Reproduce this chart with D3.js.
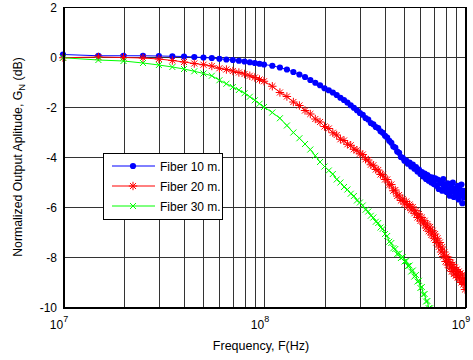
<!DOCTYPE html>
<html>
<head>
<meta charset="utf-8">
<script src="https://cdn.jsdelivr.net/npm/d3@7"></script>
<style>
  body { margin: 0; background: #fff; }
  svg { font-family: "Liberation Sans", Arial, sans-serif; }
</style>
</head>
<body>
<div id="chart"></div>
<script>
// frequencies in MHz
const freqMHz = [
  10, 15, 20, 25, 30, 35, 40, 45, 50, 55, 60, 65, 70, 75, 80, 85, 90, 95, 100,
  110, 120, 130, 140, 150, 160, 170, 180, 190, 200,
  210, 220, 230, 240, 250, 260, 270, 280, 290, 300,
  310, 320, 330, 340, 350, 360, 370, 380, 390, 400,
  410, 420, 430, 440, 450, 460, 470, 480, 490, 500,
  510, 520, 530, 540, 550, 560, 570, 580, 590, 600,
  610, 620, 630, 640, 650, 660, 670, 680, 690, 700,
  710, 720, 730, 740, 750, 760, 770, 780, 790, 800,
  810, 820, 830, 840, 850, 860, 870, 880, 890, 900,
  910, 920, 930, 940, 950, 960, 970, 980, 990, 1000
];

const fiber10 = [
  0.10, 0.05, 0.05, 0.05, 0.04, 0.03, 0.02, 0.00, -0.02, -0.04, -0.07, -0.10, -0.12, -0.15, -0.18, -0.21, -0.24, -0.27, -0.30,
  -0.35, -0.42, -0.50, -0.60, -0.70, -0.80, -0.92, -1.03, -1.13, -1.25,
  -1.33, -1.42, -1.52, -1.63, -1.72, -1.82, -1.93, -2.03, -2.13, -2.24,
  -2.31, -2.44, -2.50, -2.64, -2.69, -2.80, -2.84, -2.97, -3.03, -3.15,
  -3.22, -3.35, -3.43, -3.58, -3.62, -3.78, -3.83, -4.00, -4.03, -4.15,
  -4.14, -4.27, -4.22, -4.38, -4.30, -4.47, -4.40, -4.58, -4.50, -4.68,
  -4.60, -4.78, -4.66, -4.88, -4.72, -4.95, -4.80, -5.02, -4.82, -5.08,
  -4.85, -5.15, -4.90, -5.28, -4.95, -5.05, -5.35, -4.88, -5.22, -5.10,
  -5.40, -5.05, -5.30, -5.55, -5.12, -5.38, -5.02, -5.60, -5.25, -5.45,
  -5.48, -5.15, -5.70, -5.30, -5.52, -5.10, -5.85, -5.35, -5.62, -5.40
];

const fiber20 = [
  -0.03, 0.00, -0.02, -0.04, -0.08, -0.14, -0.20, -0.26, -0.31, -0.36, -0.45, -0.50, -0.56, -0.62, -0.68, -0.75, -0.82, -0.90, -0.97,
  -1.17, -1.42, -1.58, -1.80, -1.94, -2.14, -2.28, -2.48, -2.60, -2.78,
  -2.86, -3.03, -3.12, -3.29, -3.34, -3.49, -3.53, -3.69, -3.73, -3.87,
  -3.90, -4.09, -4.12, -4.31, -4.33, -4.50, -4.52, -4.70, -4.71, -4.90,
  -4.90, -5.12, -5.10, -5.35, -5.32, -5.56, -5.52, -5.74, -5.68, -5.88,
  -5.78, -6.00, -5.90, -6.12, -6.00, -6.25, -6.15, -6.42, -6.28, -6.56,
  -6.42, -6.68, -6.55, -6.84, -6.68, -6.97, -6.80, -7.12, -6.95, -7.25,
  -7.08, -7.42, -7.25, -7.60, -7.42, -7.80, -7.60, -7.98, -7.80, -8.18,
  -7.98, -8.32, -8.10, -8.45, -8.22, -8.58, -8.30, -8.68, -8.42, -8.75,
  -8.50, -8.82, -8.58, -8.92, -8.65, -9.02, -8.72, -9.10, -8.85, -9.30
];

// stops at 700 MHz, the rest falls below the -10 dB limit
const fiber30 = [
  -0.03, -0.12, -0.16, -0.24, -0.32, -0.40, -0.48, -0.57, -0.66, -0.75, -0.93, -1.07, -1.20, -1.32, -1.45, -1.59, -1.73, -1.87, -2.00,
  -2.22, -2.45, -2.74, -3.02, -3.25, -3.48, -3.70, -3.95, -4.20, -4.38,
  -4.54, -4.68, -4.90, -5.02, -5.20, -5.30, -5.47, -5.56, -5.74, -5.82,
  -5.94, -6.11, -6.18, -6.35, -6.42, -6.59, -6.64, -6.82, -6.87, -7.08,
  -7.16, -7.39, -7.44, -7.65, -7.68, -7.88, -7.86, -8.04, -8.00, -8.18,
  -8.16, -8.36, -8.34, -8.58, -8.54, -8.78, -8.72, -8.98, -8.95, -9.24,
  -9.20, -9.50, -9.48, -9.78, -9.76, -10.05, -10.05, -10.35, -10.40, -10.60
];

const yTicks = [-10, -8, -6, -4, -2, 0, 2];
const xDecades = [1e7, 1e8, 1e9];
const seriesNames = ["Fiber 10 m.", "Fiber 20 m.", "Fiber 30 m."];
const seriesColors = ["#0000ff", "#ff0000", "#00ff00"];
const seriesMarkers = ["dot", "star", "cross"];

const width = 473, height = 360;
const margin = { top: 7, right: 8, bottom: 53, left: 63 };
const innerW = width - margin.left - margin.right;
const innerH = height - margin.top - margin.bottom;

const svg = d3.select("#chart").append("svg")
  .attr("width", width).attr("height", height);

const g = svg.append("g")
  .attr("transform", `translate(${margin.left},${margin.top})`);

const x = d3.scaleLog().domain([1e7, 1e9]).range([0, innerW]);
const y = d3.scaleLinear().domain([-10, 2]).range([innerH, 0]);

// minor positions: 2..9 times each decade
const minorTicks = [];
xDecades.slice(0, -1).forEach(d => {
  for (let k = 2; k <= 9; k++) minorTicks.push(d * k);
});

// grid
const grid = g.append("g").attr("shape-rendering", "crispEdges");
grid.selectAll(".vx").data(xDecades.concat(minorTicks)).join("line")
  .attr("x1", d => Math.round(x(d)) + 0.5).attr("x2", d => Math.round(x(d)) + 0.5)
  .attr("y1", 0).attr("y2", innerH)
  .attr("stroke", "#333").attr("stroke-width", 1);
grid.selectAll(".hy").data(yTicks).join("line")
  .attr("x1", 0).attr("x2", innerW)
  .attr("y1", d => Math.round(y(d)) + 0.5).attr("y2", d => Math.round(y(d)) + 0.5)
  .attr("stroke", "#333").attr("stroke-width", 1);

// clip
svg.append("defs").append("clipPath").attr("id", "plotclip")
  .append("rect").attr("x", -4).attr("y", 0).attr("width", innerW + 4).attr("height", innerH + 0.5);

const plot = g.append("g").attr("clip-path", "url(#plotclip)");

function markerPath(type) {
  if (type === "star") {
    const r = 4.2, q = r * 0.72;
    return `M${-r},0L${r},0M0,${-r}L0,${r}M${-q},${-q}L${q},${q}M${-q},${q}L${q},${-q}`;
  }
  const r = 3;
  return `M${-r},${-r}L${r},${r}M${-r},${r}L${r},${-r}`;
}

const allSeries = [fiber10, fiber20, fiber30];
const line = d3.line().x(d => x(d[0] * 1e6)).y(d => y(d[1]));

allSeries.forEach((vals, si) => {
  const pts = vals.map((v, i) => [freqMHz[i], v]);
  const col = seriesColors[si];
  const sg = plot.append("g");
  sg.append("path").datum(pts)
    .attr("d", line).attr("fill", "none")
    .attr("stroke", col).attr("stroke-width", 1);
  if (seriesMarkers[si] === "dot") {
    sg.selectAll("circle").data(pts).join("circle")
      .attr("cx", d => x(d[0] * 1e6)).attr("cy", d => y(d[1]))
      .attr("r", 3.1).attr("fill", col);
  } else {
    sg.selectAll("path.m").data(pts).join("path").attr("class", "m")
      .attr("transform", d => `translate(${x(d[0] * 1e6)},${y(d[1])})`)
      .attr("d", markerPath(seriesMarkers[si]))
      .attr("stroke", col).attr("stroke-width", 1).attr("fill", "none");
  }
});

// axes frame
const frame = g.append("g").attr("shape-rendering", "crispEdges");
frame.append("rect").attr("x", 0.5).attr("y", 0.5)
  .attr("width", innerW).attr("height", innerH)
  .attr("fill", "none").attr("stroke", "#000").attr("stroke-width", 1);
frame.append("line").attr("x1", 0).attr("x2", innerW + 1)
  .attr("y1", innerH + 0.5).attr("y2", innerH + 0.5)
  .attr("stroke", "#000").attr("stroke-width", 2);
frame.append("line").attr("x1", 0.5).attr("x2", 0.5)
  .attr("y1", 0).attr("y2", innerH + 1)
  .attr("stroke", "#000").attr("stroke-width", 2);
frame.append("line").attr("x1", innerW + 0.5).attr("x2", innerW + 0.5)
  .attr("y1", 0).attr("y2", innerH + 1)
  .attr("stroke", "#000").attr("stroke-width", 2);

// y tick labels
g.selectAll(".ylab").data(yTicks).join("text")
  .attr("x", -6).attr("y", d => y(d) + 4.5)
  .attr("text-anchor", "end").attr("font-size", 12).attr("fill", "#000")
  .text(d => d);

// x tick labels 10^n
const xl = g.selectAll(".xlab").data(xDecades).join("text")
  .attr("x", d => x(d) - 4).attr("y", innerH + 22)
  .attr("text-anchor", "middle").attr("font-size", 12).attr("fill", "#000");
xl.append("tspan").text("10");
xl.append("tspan").attr("dy", -7).attr("font-size", 9)
  .text(d => Math.round(Math.log10(d)));

// axis titles
g.append("text")
  .attr("x", innerW / 2 - 3).attr("y", innerH + 43)
  .attr("text-anchor", "middle").attr("font-size", 12.5).attr("fill", "#000")
  .text("Frequency, F(Hz)");

const yt = svg.append("text")
  .attr("transform", `translate(22,${margin.top + innerH / 2}) rotate(-90)`)
  .attr("text-anchor", "middle").attr("font-size", 12.3).attr("fill", "#000");
yt.append("tspan").text("Normalized Output Aplitude, G");
yt.append("tspan").attr("dy", 3).attr("font-size", 9.5).text("N");
yt.append("tspan").attr("dy", -3).text(" (dB)");

// legend
const lg = svg.append("g").attr("transform", "translate(103,153)");
lg.append("rect").attr("x", 0.5).attr("y", 0.5).attr("width", 119).attr("height", 66)
  .attr("fill", "#fff").attr("stroke", "#000").attr("stroke-width", 1)
  .attr("shape-rendering", "crispEdges");
seriesNames.forEach((name, i) => {
  const yy = 13 + i * 20;
  const col = seriesColors[i];
  lg.append("line").attr("x1", 9).attr("x2", 52).attr("y1", yy).attr("y2", yy)
    .attr("stroke", col).attr("stroke-width", 1);
  if (seriesMarkers[i] === "dot") {
    lg.append("circle").attr("cx", 30).attr("cy", yy).attr("r", 3.1).attr("fill", col);
  } else {
    lg.append("path").attr("transform", `translate(30,${yy})`)
      .attr("d", markerPath(seriesMarkers[i]))
      .attr("stroke", col).attr("fill", "none");
  }
  lg.append("text").attr("x", 57).attr("y", yy + 4.5)
    .attr("font-size", 12).attr("fill", "#000").text(name);
});
</script>
</body>
</html>
